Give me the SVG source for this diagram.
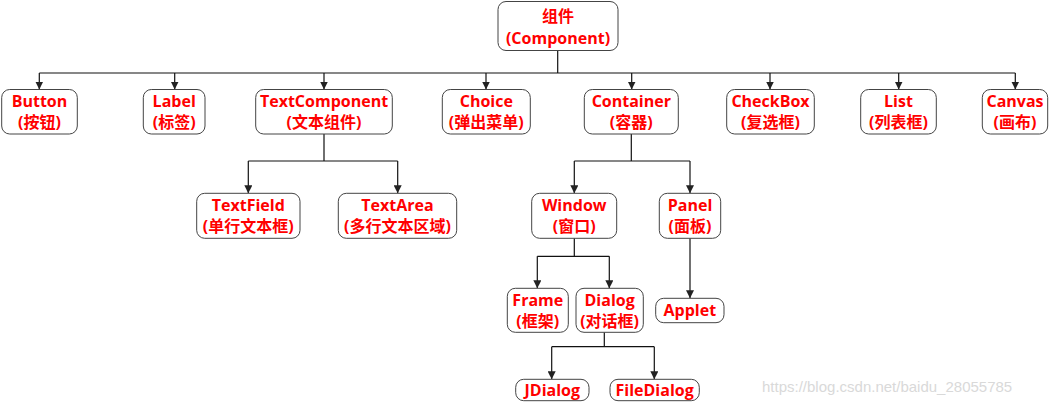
<svg xmlns="http://www.w3.org/2000/svg" width="1049" height="405" viewBox="0 0 1049 405">
<style>
.box{fill:#fff;stroke:#444;stroke-width:1}
.t{font-family:"Open Sans","Noto Sans CJK SC",sans-serif;font-weight:bold;font-size:16px;fill:#ff0000;text-anchor:middle}
.c{fill:none;stroke:#111;stroke-width:1.2}
.wm{font-family:"Liberation Sans",Arial,sans-serif;font-size:15px;fill:#d9d9d9}
</style>
<defs>
<marker id="ah" viewBox="0 0 10 10" refX="10" refY="5" markerWidth="8" markerHeight="8" markerUnits="userSpaceOnUse" orient="auto">
<path d="M0,0 L10,5 L0,10 Z" fill="#222"/>
</marker>
</defs>
<g id="connectors">
<path class="c" d="M557.7,50.5 V73"/>
<path class="c" d="M39.3,73 H1015.3"/>
<path class="c" d="M39.3,73 V89.5" marker-end="url(#ah)"/>
<path class="c" d="M174.7,73 V89.5" marker-end="url(#ah)"/>
<path class="c" d="M324,73 V89.5" marker-end="url(#ah)"/>
<path class="c" d="M486,73 V89.5" marker-end="url(#ah)"/>
<path class="c" d="M631.7,73 V89.5" marker-end="url(#ah)"/>
<path class="c" d="M770,73 V89.5" marker-end="url(#ah)"/>
<path class="c" d="M898.7,73 V89.5" marker-end="url(#ah)"/>
<path class="c" d="M1015.3,73 V89.5" marker-end="url(#ah)"/>
<path class="c" d="M324,134 V161 M248.3,161 H397.7"/>
<path class="c" d="M248.3,161 V193.3" marker-end="url(#ah)"/>
<path class="c" d="M397.7,161 V193.3" marker-end="url(#ah)"/>
<path class="c" d="M631.3,134 V161 M574.3,161 H690"/>
<path class="c" d="M574.3,161 V193.3" marker-end="url(#ah)"/>
<path class="c" d="M690,161 V193.3" marker-end="url(#ah)"/>
<path class="c" d="M574.3,238.3 V256.3 M537.3,256.3 H609.3"/>
<path class="c" d="M537.3,256.3 V288.3" marker-end="url(#ah)"/>
<path class="c" d="M609.3,256.3 V288.3" marker-end="url(#ah)"/>
<path class="c" d="M690,238.3 V298.3" marker-end="url(#ah)"/>
<path class="c" d="M604.3,332.3 V346.7 M551.7,346.7 H654.3"/>
<path class="c" d="M551.7,346.7 V379.3" marker-end="url(#ah)"/>
<path class="c" d="M654.3,346.7 V379.3" marker-end="url(#ah)"/>
</g>
<g id="component"><rect class="box" x="498" y="1.5" width="120" height="49" rx="8"/><text class="t" x="558" y="22">组件</text><text class="t" x="558" y="44">(Component)</text></g>
<g id="button"><rect class="box" x="1.7" y="89.5" width="75.6" height="44.5" rx="8"/><text class="t" x="39.5" y="107">Button</text><text class="t" x="39.5" y="128">(按钮)</text></g>
<g id="label"><rect class="box" x="143.3" y="89.5" width="61.7" height="44.5" rx="8"/><text class="t" x="174.2" y="107">Label</text><text class="t" x="174.2" y="128">(标签)</text></g>
<g id="textcomponent"><rect class="box" x="255.7" y="89.5" width="136.6" height="44.5" rx="8"/><text class="t" x="324" y="107">TextComponent</text><text class="t" x="324" y="128">(文本组件)</text></g>
<g id="choice"><rect class="box" x="442.3" y="89.5" width="88" height="44.5" rx="8"/><text class="t" x="486.3" y="107">Choice</text><text class="t" x="486.3" y="128">(弹出菜单)</text></g>
<g id="container"><rect class="box" x="584.3" y="89.5" width="94" height="44.5" rx="8"/><text class="t" x="631.3" y="107">Container</text><text class="t" x="631.3" y="128">(容器)</text></g>
<g id="checkbox"><rect class="box" x="726.7" y="89.5" width="87.6" height="44.5" rx="8"/><text class="t" x="770.5" y="107">CheckBox</text><text class="t" x="770.5" y="128">(复选框)</text></g>
<g id="list"><rect class="box" x="860.7" y="89.5" width="75.6" height="44.5" rx="8"/><text class="t" x="898.5" y="107">List</text><text class="t" x="898.5" y="128">(列表框)</text></g>
<g id="canvas"><rect class="box" x="982.3" y="89.5" width="65.4" height="44.5" rx="8"/><text class="t" x="1015" y="107">Canvas</text><text class="t" x="1015" y="128">(画布)</text></g>
<g id="textfield"><rect class="box" x="196.7" y="193.3" width="103.3" height="45" rx="8"/><text class="t" x="248.3" y="211">TextField</text><text class="t" x="248.3" y="232">(单行文本框)</text></g>
<g id="textarea"><rect class="box" x="338.3" y="193.3" width="118.4" height="45" rx="8"/><text class="t" x="397.5" y="211">TextArea</text><text class="t" x="397.5" y="232">(多行文本区域)</text></g>
<g id="window"><rect class="box" x="531.7" y="193.3" width="85" height="45" rx="8"/><text class="t" x="574.2" y="211">Window</text><text class="t" x="574.2" y="232">(窗口)</text></g>
<g id="panel"><rect class="box" x="659.3" y="193.3" width="61.4" height="45" rx="8"/><text class="t" x="690" y="211">Panel</text><text class="t" x="690" y="232">(面板)</text></g>
<g id="frame"><rect class="box" x="507.3" y="288.3" width="61" height="44" rx="8"/><text class="t" x="537.8" y="306">Frame</text><text class="t" x="537.8" y="327">(框架)</text></g>
<g id="dialog"><rect class="box" x="576" y="288.3" width="67.3" height="44" rx="8"/><text class="t" x="609.6" y="306">Dialog</text><text class="t" x="609.6" y="327">(对话框)</text></g>
<g id="applet"><rect class="box" x="655.7" y="298.3" width="68.3" height="24.4" rx="8"/><text class="t" x="689.8" y="316">Applet</text></g>
<g id="jdialog"><rect class="box" x="515.7" y="379.3" width="73.3" height="21.4" rx="8"/><text class="t" x="552.3" y="396">JDialog</text></g>
<g id="filedialog"><rect class="box" x="610" y="379.3" width="89.3" height="21.4" rx="8"/><text class="t" x="654.6" y="396">FileDialog</text></g>
<text class="wm" x="762" y="392">https://blog.csdn.net/baidu_28055785</text>
</svg>
